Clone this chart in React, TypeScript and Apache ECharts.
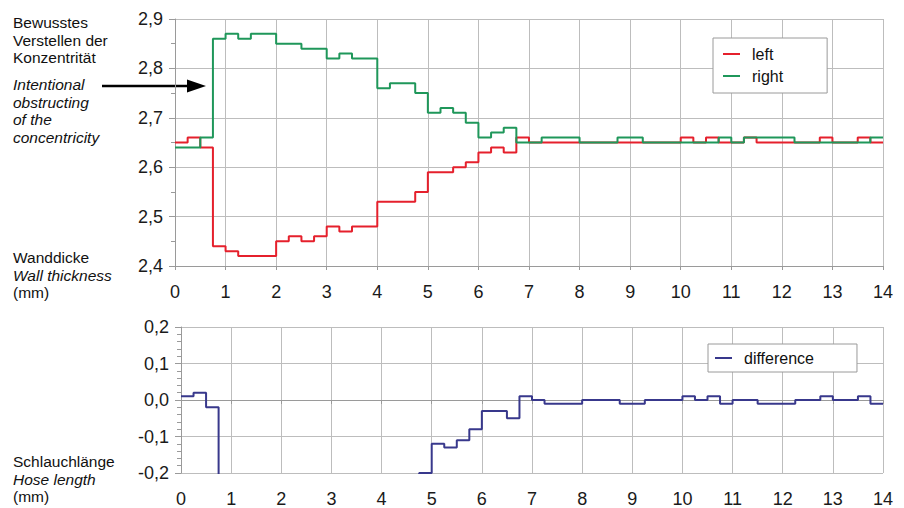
import React, { useEffect, useRef } from 'react';
import * as echarts from 'echarts';

// x positions (hose length, mm) where each stepped value starts
const leftX = [0, 0.25, 0.5, 0.75, 1.0, 1.25, 2.0, 2.25, 2.5, 2.75, 3.0, 3.25, 3.5, 4.0, 4.75, 5.0, 5.5, 5.75, 6.0, 6.25, 6.5, 6.75, 7.0, 10.0, 10.25, 10.5, 10.75, 11.25, 11.5, 12.75, 13.0, 13.5, 13.75, 14];
const leftY = [2.65, 2.66, 2.64, 2.44, 2.43, 2.42, 2.45, 2.46, 2.45, 2.46, 2.48, 2.47, 2.48, 2.53, 2.55, 2.59, 2.60, 2.61, 2.63, 2.64, 2.63, 2.66, 2.65, 2.66, 2.65, 2.66, 2.65, 2.66, 2.65, 2.66, 2.65, 2.66, 2.65, 2.65];

const rightX = [0, 0.5, 0.75, 1.0, 1.25, 1.5, 2.0, 2.5, 3.0, 3.25, 3.5, 4.0, 4.25, 4.75, 5.0, 5.25, 5.5, 5.75, 6.0, 6.25, 6.5, 6.75, 7.25, 8.0, 8.75, 9.25, 10.75, 11.0, 11.25, 12.25, 13.75, 14];
const rightY = [2.64, 2.66, 2.86, 2.87, 2.86, 2.87, 2.85, 2.84, 2.82, 2.83, 2.82, 2.76, 2.77, 2.75, 2.71, 2.72, 2.71, 2.69, 2.66, 2.67, 2.68, 2.65, 2.66, 2.65, 2.66, 2.65, 2.66, 2.65, 2.66, 2.65, 2.66, 2.66];

const diffX = [0, 0.25, 0.5, 0.75, 1.0, 1.5, 2.0, 2.25, 2.75, 3.0, 3.25, 3.5, 4.0, 4.25, 4.75, 5.0, 5.25, 5.5, 5.75, 6.0, 6.5, 6.75, 7.0, 7.25, 8.0, 8.75, 9.25, 10.0, 10.25, 10.5, 10.75, 11.0, 11.5, 12.25, 12.75, 13.0, 13.5, 13.75, 14];
const diffY = [0.01, 0.02, -0.02, -0.42, -0.44, -0.45, -0.40, -0.39, -0.38, -0.34, -0.36, -0.34, -0.23, -0.24, -0.20, -0.12, -0.13, -0.11, -0.08, -0.03, -0.05, 0.01, 0.0, -0.01, 0.0, -0.01, 0.0, 0.01, 0.0, 0.01, -0.01, 0.0, -0.01, 0.0, 0.01, 0.0, 0.01, -0.01, -0.01];

const seriesNames = ['left', 'right', 'difference'];
const topAxisRange = [2.4, 2.9];
const bottomAxisRange = [-0.2, 0.2];
const xRange = [0, 14];

const FONT = '"Liberation Sans", Arial, Helvetica, sans-serif';
const RED = '#e5202c';
const GREEN = '#1f975a';
const BLUE = '#38388c';
const GRIDC = '#bdbdbd';
const AXISC = '#9a9a9a';

const zip = (xs: number[], ys: number[]) => xs.map((x, i) => [x, ys[i]]);
const fmt = (v: number) => v.toFixed(1).replace('.', ',');

export default function App() {
  const ref = useRef<HTMLDivElement>(null);
  useEffect(() => {
    if (!ref.current) return;
    const chart = echarts.init(ref.current, undefined, { renderer: 'svg' });
    const xAxisCommon = (gridIndex: number) => ({
      type: 'value',
      gridIndex,
      min: xRange[0],
      max: xRange[1],
      interval: 1,
      axisLine: { show: true, lineStyle: { color: AXISC, width: 1 } },
      axisTick: { show: true, length: 4, lineStyle: { color: AXISC } },
      axisLabel: { color: '#1a1a1a', fontSize: 18, fontFamily: FONT, margin: 17 },
      splitLine: { show: true, lineStyle: { color: GRIDC, width: 1 } },
    });
    const yAxisCommon = (gridIndex: number, range: number[], minorSplit: number) => ({
      type: 'value',
      gridIndex,
      min: range[0],
      max: range[1],
      interval: 0.1,
      axisLine: { show: true, lineStyle: { color: AXISC, width: 1 } },
      axisTick: { show: true, length: 6, lineStyle: { color: AXISC } },
      minorTick: { show: true, splitNumber: minorSplit, length: 4, lineStyle: { color: AXISC } },
      axisLabel: { color: '#1a1a1a', fontSize: 18, fontFamily: FONT, margin: 12, formatter: fmt },
      splitLine: { show: true, lineStyle: { color: GRIDC, width: 1 } },
    });
    const legendCommon = {
      orient: 'vertical',
      icon: 'rect',
      itemWidth: 17,
      itemHeight: 2,
      backgroundColor: '#fff',
      borderColor: '#9a9a9a',
      borderWidth: 1,
      borderRadius: 0,
      textStyle: { color: '#111', fontSize: 16, fontFamily: FONT, lineHeight: 16, padding: [0, 0, 0, 7] },
    };
    const textEl = (top: number, text: string, italic = false) => ({
      type: 'text',
      left: 13,
      top,
      style: {
        text,
        fill: '#111',
        fontSize: 15.5,
        fontFamily: FONT,
        fontStyle: italic ? 'italic' : 'normal',
        lineHeight: 17.5,
      },
    });
    chart.setOption({
      animation: false,
      backgroundColor: '#fff',
      grid: [
        { left: 175, right: 21, top: 19, height: 247, containLabel: false },
        { left: 181, right: 21, top: 327, height: 151, containLabel: false },
      ],
      xAxis: [xAxisCommon(0), xAxisCommon(1)],
      yAxis: [yAxisCommon(0, topAxisRange, 2), yAxisCommon(1, bottomAxisRange, 5)],
      legend: [
        {
          ...legendCommon,
          data: [seriesNames[0], seriesNames[1]],
          left: 713,
          top: 38,
          padding: [8, 44, 9, 10],
          itemGap: 6,
        },
        {
          ...legendCommon,
          data: [seriesNames[2]],
          left: 708,
          top: 344,
          padding: [6, 43, 6, 7],
        },
      ],
      series: [
        {
          name: seriesNames[0],
          type: 'line',
          step: 'end',
          xAxisIndex: 0,
          yAxisIndex: 0,
          data: zip(leftX, leftY),
          showSymbol: false,
          lineStyle: { color: RED, width: 2 },
          itemStyle: { color: RED },
          z: 3,
        },
        {
          name: seriesNames[1],
          type: 'line',
          step: 'end',
          xAxisIndex: 0,
          yAxisIndex: 0,
          data: zip(rightX, rightY),
          showSymbol: false,
          lineStyle: { color: GREEN, width: 2 },
          itemStyle: { color: GREEN },
          z: 4,
        },
        {
          name: seriesNames[2],
          type: 'line',
          step: 'end',
          xAxisIndex: 1,
          yAxisIndex: 1,
          data: zip(diffX, diffY),
          showSymbol: false,
          clip: true,
          lineStyle: { color: BLUE, width: 2 },
          itemStyle: { color: BLUE },
        },
      ],
      graphic: [
        textEl(14, 'Bewusstes\nVerstellen der\nKonzentrität'),
        textEl(76, 'Intentional\nobstructing\nof the\nconcentricity', true),
        textEl(249, 'Wanddicke'),
        textEl(266.5, 'Wall thickness', true),
        textEl(284, '(mm)'),
        textEl(453, 'Schlauchlänge'),
        textEl(470.5, 'Hose length', true),
        textEl(488, '(mm)'),
        {
          type: 'line',
          shape: { x1: 102, y1: 86, x2: 190, y2: 86 },
          style: { stroke: '#000', lineWidth: 2.5 },
        },
        {
          type: 'polygon',
          shape: { points: [[187, 79.5], [206, 86], [187, 92.5]] },
          style: { fill: '#000' },
        },
      ],
    });
    return () => chart.dispose();
  }, []);
  return (
    <div
      ref={ref}
      style={{ position: 'fixed', left: 0, top: 0, width: 904, height: 508, background: '#fff' }}
    />
  );
}
